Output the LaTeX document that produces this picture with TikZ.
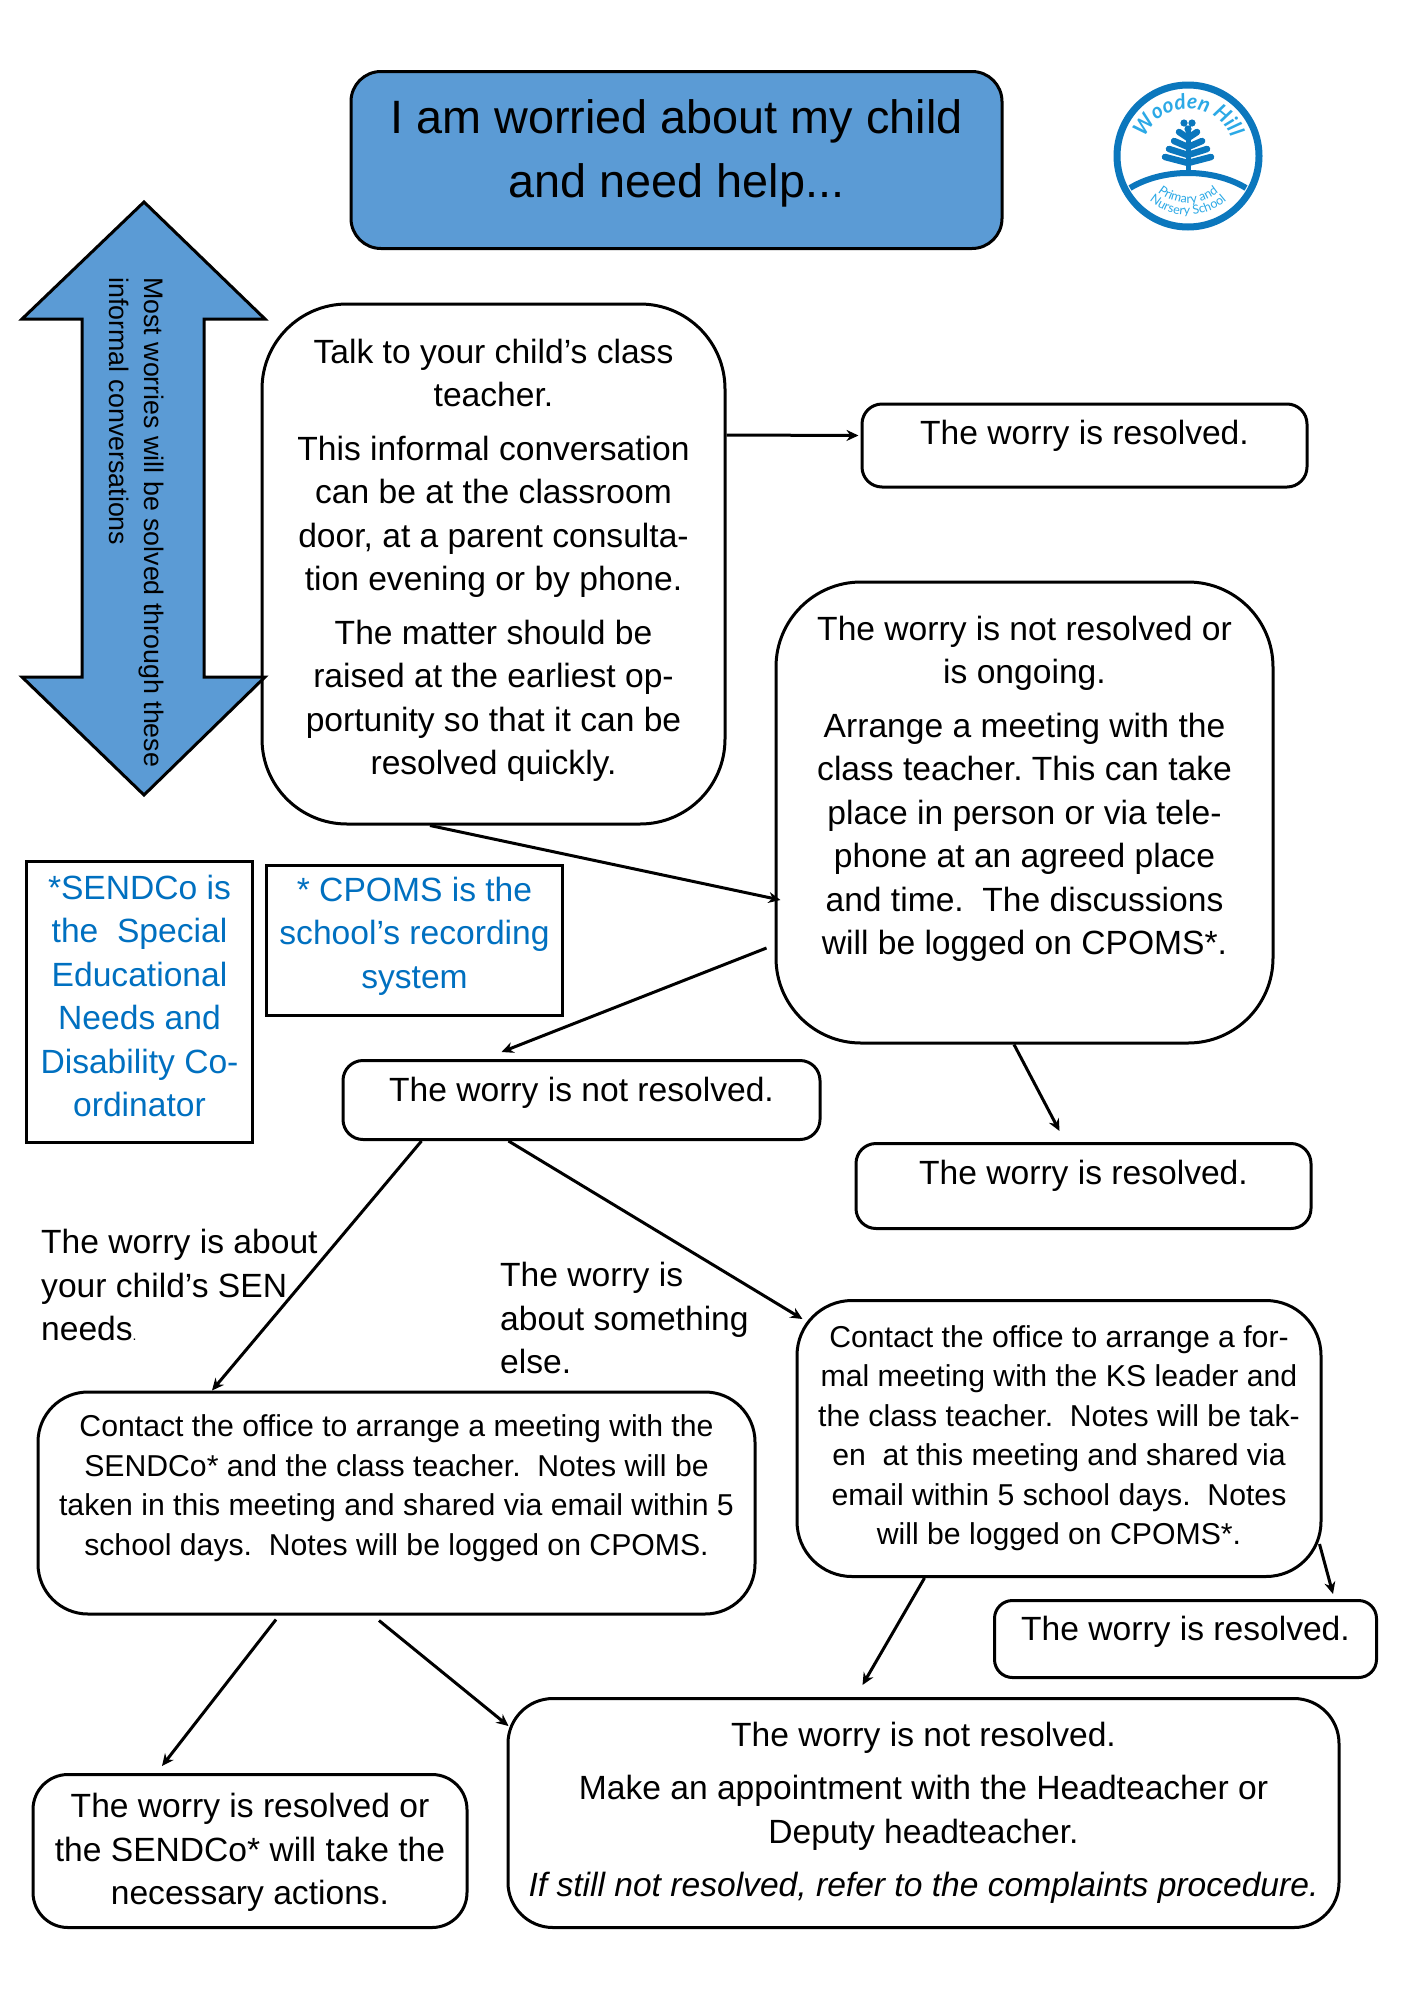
\documentclass[tikz,border=0pt]{standalone}
\usepackage{fontspec}
\setmainfont{Liberation Sans}
\newfontfamily\logoscript{Lato}
\usetikzlibrary{calc,arrows.meta,decorations.text}
\definecolor{fillblue}{HTML}{5B9BD5}
\definecolor{textblue}{HTML}{0070C0}
\definecolor{logoblue}{HTML}{0B77BD}
\definecolor{logolight}{HTML}{2BA9E6}
\newcommand{\dn}[1]{\rule[-#1pt]{0pt}{0pt}}
\newcommand{\fsize}[2]{\fontsize{#1}{#2}\selectfont}
\tikzset{
  boxnode/.style={draw=black,line width=3pt,align=center,inner sep=0pt,fill=white,font=\fsize{33.6}{43.5}},
  smallbox/.style={boxnode,font=\fsize{30.2}{39.4}},
  bluebox/.style={boxnode,rounded corners=0pt,text=textblue},
  labelnode/.style={align=left,inner sep=0pt,anchor=north west,font=\fsize{33.6}{43.5}},
  conn/.style={line width=3pt,-{Stealth[length=12pt,width=11pt]}},
  logoline/.style={draw=logoblue,line cap=round,line width=6.5pt},
}
\begin{document}
\frenchspacing
\begin{tikzpicture}[x=1pt,y=-1pt]
\useasboundingbox (0,0) rectangle (1415,2000);
\fill[white] (0,0) rectangle (1415,2000);

% title
\node[boxnode,fill=fillblue,minimum width=651pt,minimum height=177pt,rounded corners=30pt,font=\fsize{46.8}{64}] (title) at (676.5,160)
  {I am worried about my child\\and need help...\dn{23}};

% boxes
\node[boxnode,minimum width=463pt,minimum height=520pt,rounded corners=85pt] (talk) at (493.5,564)
  {Talk to your child’s class\\teacher.\\[10pt]This informal conversation\\can be at the classroom\\door, at a parent consulta-\\tion evening or by phone.\\[10pt]The matter should be\\raised at the earliest op-\\portunity so that it can be\\resolved quickly.\dn{14}};

\node[boxnode,minimum width=445pt,minimum height=83pt,rounded corners=20pt] (res1) at (1084.5,445.5)
  {The worry is resolved.\dn{26}};

\node[boxnode,minimum width=497pt,minimum height=461pt,rounded corners=85pt] (ongoing) at (1024.5,812.5)
  {The worry is not resolved or\\is ongoing.\\[10pt]Arrange a meeting with the\\class teacher. This can take\\place in person or via tele-\\phone at an agreed place\\and time.~ The discussions\\will be logged on CPOMS*.\dn{54}};

\node[bluebox,minimum width=226pt,minimum height=281pt] (sendco) at (139.5,1002)
  {*SENDCo is\\the~ Special\\Educational\\Needs and\\Disability Co-\\ordinator\dn{12}};

\node[bluebox,minimum width=296pt,minimum height=150pt] (cpoms) at (414.5,940.5)
  {* CPOMS is the\\school’s recording\\system\dn{16}};

\node[boxnode,minimum width=477pt,minimum height=79pt,rounded corners=20pt] (notres) at (581.5,1100)
  {The worry is not resolved.\dn{22}};

\node[boxnode,minimum width=455pt,minimum height=85pt,rounded corners=20pt] (res2) at (1083.5,1186)
  {The worry is resolved.\dn{28}};

\node[smallbox,minimum width=717pt,minimum height=222pt,rounded corners=50pt] (sen) at (396.5,1503)
  {Contact the office to arrange a meeting with the\\SENDCo* and the class teacher.~ Notes will be\\taken in this meeting and shared via email within 5\\school days.~ Notes will be logged on CPOMS.\dn{36}};

\node[smallbox,minimum width=524pt,minimum height=276pt,rounded corners=55pt] (ks) at (1059,1438.5)
  {Contact the office to arrange a for-\\mal meeting with the KS leader and\\the class teacher.~ Notes will be tak-\\en~ at this meeting and shared via\\email within 5 school days.~ Notes\\will be logged on CPOMS*.\dn{7}};

\node[boxnode,minimum width=382pt,minimum height=77pt,rounded corners=18pt] (res3) at (1185.5,1639)
  {The worry is resolved.\dn{22}};

\node[boxnode,minimum width=831pt,minimum height=229pt,rounded corners=45pt] (final) at (923.5,1813)
  {The worry is not resolved.\\[10pt]Make an appointment with the Headteacher or\\Deputy headteacher.\\[10pt]\textit{If still not resolved, refer to the complaints procedure.}\dn{4}};

\node[boxnode,minimum width=434pt,minimum height=153pt,rounded corners=35pt] (action) at (250,1851)
  {\rule{0pt}{27.4pt}The worry is resolved or\\the SENDCo* will take the\\necessary actions.};

% free labels
\node[labelnode] (senlabel) at (41,1229)
  {The worry is about\\your child’s SEN\\needs{\fontsize{14}{14}\selectfont.}};
\node[labelnode] (elselabel) at (500,1262)
  {The worry is\\about something\\else.};

% double arrow
\draw[fill=fillblue,line width=3pt,line join=miter,miter limit=10] (144,202) -- (265,319) -- (204,319) -- (204,677) -- (265,677) -- (144,795) -- (22,677) -- (82,677) -- (82,319) -- (22,319) -- cycle;
\node[rotate=-90,align=left,inner sep=0pt,anchor=north west,font=\fsize{26.8}{34.5}] (arrowtext) at (164,277)
  {Most worries will be solved through these\\informal conversations};

% connectors
\draw[conn] ($(talk.east)+(0,-129)$) -- ($(res1.west)+(-2,-10)$);
\draw[conn] ($(talk.south)+(-63.5,0)$) -- ($(ongoing.west)+(6,87.5)$);
\draw[conn] ($(ongoing.west)+(-8,135.5)$) -- ($(notres.north)+(-80,-7)$);
\draw[conn] ($(ongoing.south)+(-10.5,0)$) -- ($(res2.north)+(-24,-11)$);
\draw[conn] ($(notres.south)+(-160,0)$) -- ($(sen.north)+(-184.5,0)$);
\draw[conn] ($(notres.south)+(-73,0)$) -- ($(ks.west)+(7,-119.5)$);
\draw[conn] ($(sen.south)+(-120.5,4)$) -- ($(action.north)+(-88,-7)$);
\draw[conn] ($(sen.south)+(-17.5,5)$) -- ($(final.west)+(2,-87)$);
\draw[conn] ($(ks.south)+(-134.5,0)$) -- ($(final.north)+(-61,-12)$);
\draw[conn] ($(ks.east)+(-3,105.5)$) -- ($(res3.north)+(147.5,-5)$);

% logo
\begin{scope}[shift={(1188,156)}]
  \draw[draw=logoblue,line width=7pt] (0,0) circle[radius=71];
  \draw[draw=logoblue,line width=6pt] (-58,32) .. controls (-25,12) and (25,12) .. (58,32);
  \draw[draw=logoblue,line width=5pt] (0,-30) -- (0,17);
  \foreach \yy/\dx in {1/23,-7/19,-15/14,-24/9}
    \draw[logoline] (-\dx,\yy) -- (0,\yy+6) -- (\dx,\yy);
  \fill[logoblue] (-4,-33) circle[radius=3.6] (4,-33) circle[radius=3.6] (0,-27) circle[radius=3.6];
\end{scope}
\begin{scope}[shift={(1188,156)},y=1pt]
  \path[decorate,decoration={text along path,text align=center,
     text={|\logoscript\itshape\bfseries\fontsize{21}{21}\selectfont\color{logolight}|Wooden Hill}}]
     (155:47) arc[start angle=155,end angle=25,radius=47];
  \path[decorate,decoration={text along path,text align=center,
     text={|\logoscript\fontsize{12.5}{13}\selectfont\color{logolight}|Primary and}}]
     (225:47) arc[start angle=225,end angle=315,radius=47];
  \path[decorate,decoration={text along path,text align=center,
     text={|\logoscript\fontsize{12.5}{13}\selectfont\color{logolight}|Nursery School}}]
     (225:59) arc[start angle=225,end angle=315,radius=59];
\end{scope}
\end{tikzpicture}
\end{document}
